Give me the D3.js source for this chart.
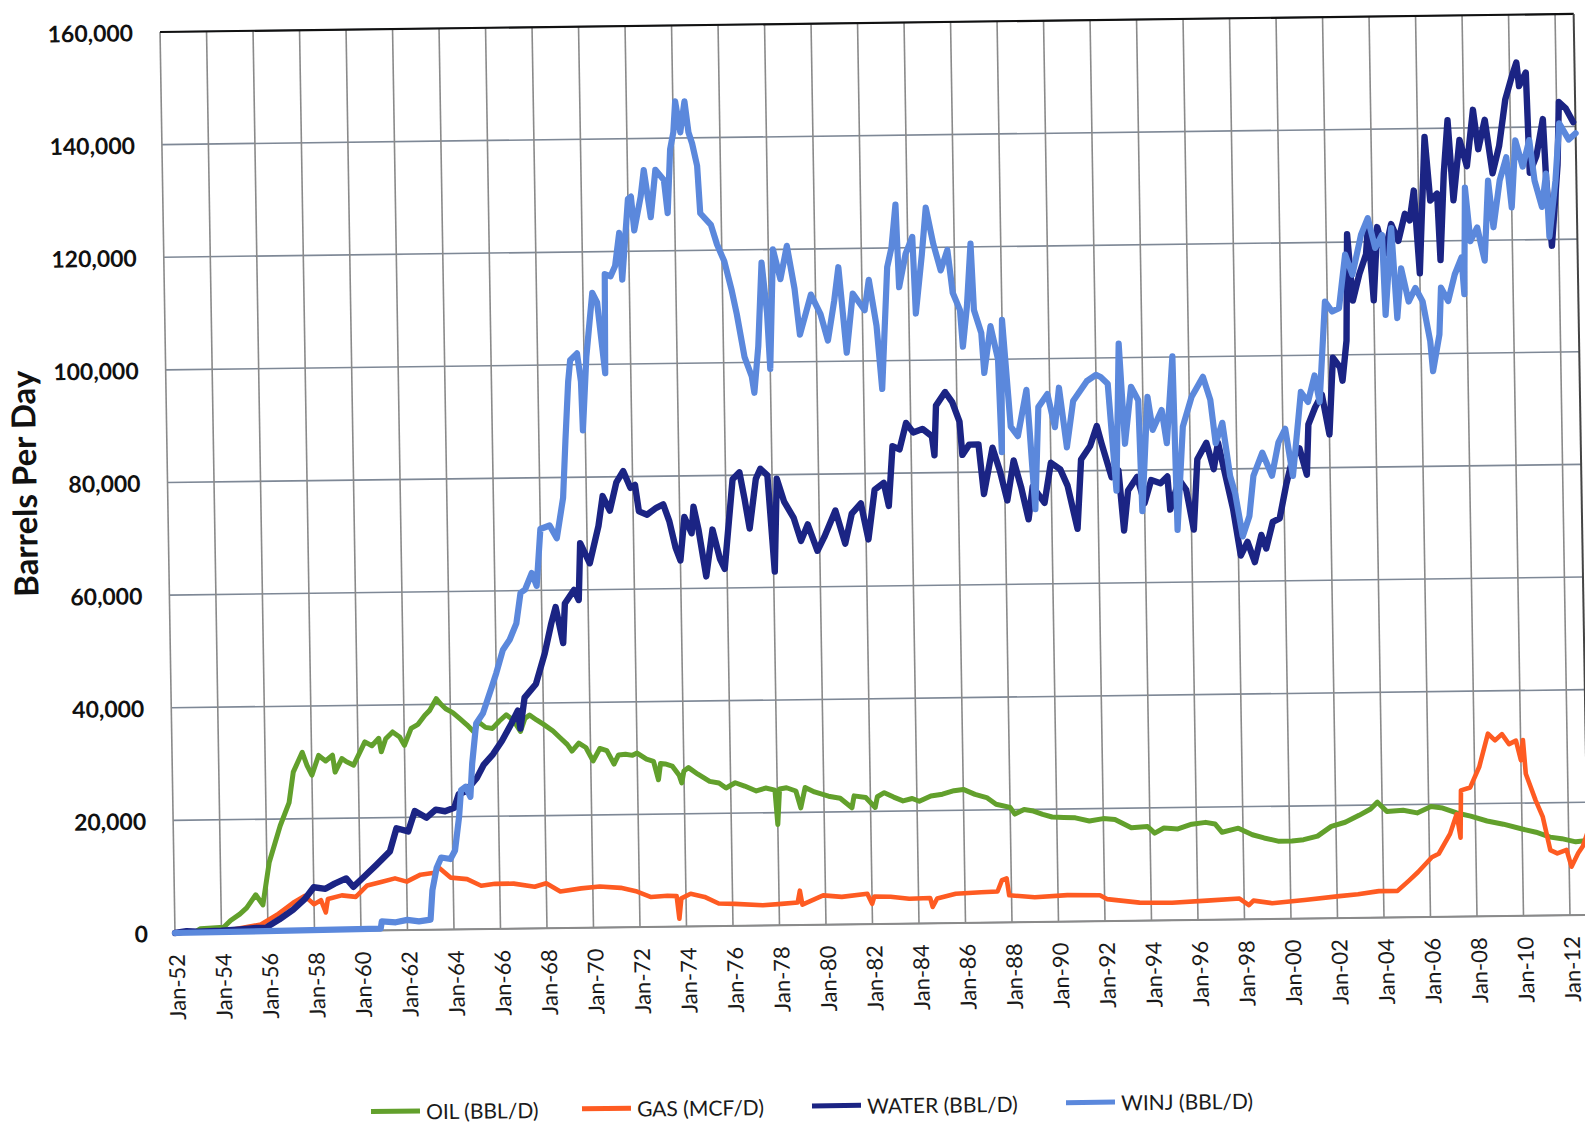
<!DOCTYPE html>
<html><head><meta charset="utf-8">
<script src="https://cdn.jsdelivr.net/npm/d3@7"></script>
<style>body{margin:0;background:#fff;overflow:hidden}</style>
</head><body>
<svg id="c" width="1585" height="1125"></svg>
<script>
const yTicks = [0,20000,40000,60000,80000,100000,120000,140000,160000];
const xTickYears = [1952,1954,1956,1958,1960,1962,1964,1966,1968,1970,1972,1974,1976,1978,1980,1982,1984,1986,1988,1990,1992,1994,1996,1998,2000,2002,2004,2006,2008,2010,2012];
const xTickLabels = ["Jan-52","Jan-54","Jan-56","Jan-58","Jan-60","Jan-62","Jan-64","Jan-66","Jan-68","Jan-70","Jan-72","Jan-74","Jan-76","Jan-78","Jan-80","Jan-82","Jan-84","Jan-86","Jan-88","Jan-90","Jan-92","Jan-94","Jan-96","Jan-98","Jan-00","Jan-02","Jan-04","Jan-06","Jan-08","Jan-10","Jan-12"];
const seriesNames = ["OIL (BBL/D)","GAS (MCF/D)","WATER (BBL/D)","WINJ (BBL/D)"];
const seriesColors = ["#62a02c","#fe5b22","#1b2484","#5b88dc"];

const oil = [[1952.0,0],[1952.9,200],[1953.1,700],[1953.6,800],[1954.1,900],[1954.4,2100],[1954.8,3200],[1955.1,4300],[1955.5,6600],[1955.8,4800],[1956.1,12300],[1956.6,18800],[1957.0,22900],[1957.2,28300],[1957.6,31800],[1957.8,29400],[1958.0,27700],[1958.3,31200],[1958.6,30200],[1958.9,31200],[1959.0,28200],[1959.3,30600],[1959.5,30000],[1959.8,29400],[1960.3,33500],[1960.6,32800],[1960.9,34100],[1961.0,31700],[1961.2,34000],[1961.5,35200],[1961.8,34300],[1962.0,32800],[1962.3,35800],[1962.6,36500],[1962.9,38100],[1963.1,38900],[1963.4,41000],[1963.6,40000],[1963.8,39200],[1964.1,38500],[1964.4,37400],[1964.7,36300],[1965.0,35000],[1965.2,36800],[1965.5,35800],[1965.8,35600],[1966.1,36900],[1966.4,38000],[1966.7,37000],[1967.0,35000],[1967.2,37300],[1967.4,37900],[1967.7,37000],[1968.0,36200],[1968.4,35000],[1968.7,33800],[1969.0,32600],[1969.2,31400],[1969.5,32800],[1969.8,32000],[1970.1,29600],[1970.4,31800],[1970.7,31400],[1971.0,29000],[1971.2,30600],[1971.5,30700],[1971.8,30500],[1972.0,30900],[1972.4,29800],[1972.7,29400],[1972.9,26100],[1973.0,29000],[1973.2,28900],[1973.5,28500],[1973.8,26800],[1973.9,25500],[1974.0,27600],[1974.2,28200],[1974.6,27000],[1975.1,25700],[1975.5,25400],[1975.8,24500],[1976.2,25400],[1976.6,24800],[1977.1,23900],[1977.5,24400],[1977.9,24000],[1978.0,17900],[1978.1,24200],[1978.4,24400],[1978.8,23800],[1979.0,20800],[1979.2,24400],[1979.6,23600],[1980.2,22800],[1980.7,22400],[1981.2,20700],[1981.3,22800],[1981.8,22500],[1982.2,20700],[1982.3,22600],[1982.6,23300],[1983.0,22500],[1983.4,21800],[1983.8,22200],[1984.1,21700],[1984.6,22600],[1985.1,22900],[1985.6,23500],[1986.0,23700],[1986.5,22800],[1987.0,22200],[1987.4,21000],[1988.0,20400],[1988.2,19200],[1988.6,20000],[1989.0,19700],[1989.4,19100],[1989.8,18600],[1990.3,18500],[1990.8,18400],[1991.4,17800],[1992.0,18200],[1992.5,18000],[1993.2,16500],[1993.9,16700],[1994.2,15500],[1994.6,16400],[1995.2,16200],[1995.8,17000],[1996.4,17300],[1996.8,17000],[1997.1,15500],[1997.8,16200],[1998.4,15000],[1998.9,14400],[1999.5,13800],[2000.1,13800],[2000.6,14000],[2001.2,14600],[2001.8,16300],[2002.4,17000],[2003.0,18200],[2003.5,19300],[2003.8,20500],[2004.2,18800],[2004.9,19000],[2005.5,18500],[2006.1,19600],[2006.6,19300],[2007.2,18400],[2007.8,17800],[2008.5,16900],[2009.2,16300],[2010.0,15400],[2010.6,14800],[2011.2,13900],[2011.7,13600],[2012.3,13000],[2012.8,13200]];

const gas = [[1952.0,0],[1954.0,100],[1954.8,700],[1955.7,1300],[1956.4,3000],[1957.1,5100],[1957.6,6300],[1958.0,4800],[1958.3,5500],[1958.5,3300],[1958.6,5700],[1959.2,6300],[1959.8,6000],[1960.3,8000],[1960.9,8600],[1961.5,9200],[1962.0,8600],[1962.6,9800],[1963.2,10100],[1963.4,11000],[1963.9,9200],[1964.6,8900],[1965.2,7700],[1965.8,8000],[1966.6,8000],[1967.5,7400],[1968.0,8000],[1968.6,6500],[1969.5,7000],[1970.3,7300],[1971.2,7000],[1971.9,6300],[1972.5,5300],[1973.2,5500],[1973.6,5400],[1973.7,1400],[1973.8,5000],[1974.2,5800],[1974.8,5200],[1975.4,4000],[1976.1,3900],[1977.3,3600],[1978.1,3800],[1978.8,4000],[1978.9,6100],[1979.0,3600],[1979.9,5200],[1980.7,4900],[1981.8,5400],[1982.0,3600],[1982.1,4900],[1982.8,4800],[1983.6,4400],[1984.5,4500],[1984.6,2900],[1984.8,4400],[1985.6,5200],[1986.7,5400],[1987.4,5500],[1987.6,7500],[1987.8,7800],[1987.9,4800],[1989.0,4400],[1990.4,4700],[1991.8,4600],[1992.1,3900],[1993.5,3200],[1994.9,3100],[1996.4,3400],[1997.8,3700],[1998.2,2500],[1998.4,3300],[1999.2,2800],[2000.6,3300],[2002.1,3900],[2002.9,4200],[2003.8,4700],[2004.6,4700],[2005.1,6500],[2005.5,8000],[2006.1,10600],[2006.4,11200],[2006.9,14700],[2007.2,18200],[2007.35,14000],[2007.4,22400],[2007.8,22900],[2008.2,26500],[2008.6,32400],[2008.9,31200],[2009.2,32300],[2009.5,30500],[2009.8,31100],[2010.0,27600],[2010.1,31200],[2010.2,25200],[2010.6,20500],[2010.9,17500],[2011.2,11600],[2011.5,11000],[2011.9,11600],[2012.1,8600],[2012.4,11000],[2012.6,12200],[2012.8,14500]];

const water = [[1952.0,0],[1952.5,300],[1953.0,200],[1954.0,300],[1954.8,500],[1955.5,700],[1955.9,700],[1956.5,2200],[1957.1,3900],[1957.6,5700],[1958.0,7800],[1958.5,7500],[1958.9,8400],[1959.4,9300],[1959.7,7800],[1960.1,9300],[1960.7,11600],[1961.3,14000],[1961.6,18100],[1962.1,17500],[1962.4,21100],[1962.9,19900],[1963.3,21300],[1963.7,21000],[1964.1,21600],[1964.3,24000],[1964.6,24500],[1965.1,26900],[1965.4,29200],[1965.8,31000],[1966.2,33400],[1966.6,36300],[1966.9,38700],[1967.0,35500],[1967.2,41000],[1967.7,43400],[1968.1,48800],[1968.4,54100],[1968.6,57000],[1968.9,50600],[1969.0,57600],[1969.4,60000],[1969.6,58200],[1969.7,68300],[1970.1,64700],[1970.5,71300],[1970.7,76600],[1971.0,74000],[1971.3,79000],[1971.6,81000],[1971.9,78000],[1972.1,78500],[1972.25,73800],[1972.6,73200],[1973.0,74400],[1973.3,75000],[1973.55,72000],[1973.8,67300],[1974.0,65000],[1974.2,72700],[1974.5,69800],[1974.6,74500],[1974.8,70400],[1975.1,62100],[1975.4,70400],[1975.7,65200],[1975.9,63400],[1976.3,79300],[1976.6,80500],[1976.8,75800],[1977.0,70500],[1977.3,79300],[1977.5,81100],[1977.8,79900],[1978.05,62800],[1978.2,79300],[1978.5,75200],[1978.9,72300],[1979.2,68200],[1979.5,71100],[1979.9,66400],[1980.2,68800],[1980.7,73500],[1981.1,67600],[1981.4,72900],[1981.8,74700],[1982.1,68300],[1982.4,77100],[1982.8,78300],[1983.0,74200],[1983.2,84800],[1983.5,84200],[1983.8,88900],[1984.1,87200],[1984.5,87800],[1984.9,86500],[1985.0,83100],[1985.1,91900],[1985.5,94300],[1985.8,92500],[1986.1,89000],[1986.2,83100],[1986.5,84900],[1986.9,84900],[1987.1,76100],[1987.5,84300],[1987.8,80200],[1988.1,74900],[1988.4,82000],[1988.7,77300],[1989.0,71500],[1989.2,77300],[1989.7,74400],[1990.0,81500],[1990.4,80300],[1990.7,77400],[1991.1,69700],[1991.3,82000],[1991.7,84400],[1992.0,87900],[1992.2,84700],[1992.6,78800],[1992.9,80000],[1993.1,69300],[1993.3,76400],[1993.7,78800],[1994.0,74100],[1994.3,78200],[1994.7,77600],[1995.0,78800],[1995.1,72900],[1995.5,78200],[1995.8,76400],[1996.1,69300],[1996.3,81800],[1996.7,84700],[1997.0,80000],[1997.2,84700],[1997.5,78800],[1997.8,72900],[1998.1,64600],[1998.4,67000],[1998.7,63400],[1999.0,68200],[1999.2,65800],[1999.5,70500],[1999.8,71100],[2000.1,77000],[2000.4,81800],[2000.7,83500],[2001.0,78800],[2001.1,87700],[2001.4,90700],[2001.7,93000],[2002.0,85900],[2002.2,99500],[2002.5,97800],[2002.6,95400],[2002.8,102500],[2002.9,121400],[2003.1,109600],[2003.4,114300],[2003.7,117800],[2003.8,122600],[2004.0,109600],[2004.2,122600],[2004.5,117800],[2004.8,123100],[2005.1,120100],[2005.4,124900],[2005.6,123700],[2005.8,129000],[2006.0,114300],[2006.3,138500],[2006.5,127200],[2006.8,128400],[2006.9,116600],[2007.1,131900],[2007.3,141400],[2007.5,127200],[2007.8,137900],[2008.1,133200],[2008.4,143200],[2008.6,136200],[2008.9,141400],[2009.2,131900],[2009.5,136700],[2009.8,145000],[2010.1,149100],[2010.3,151500],[2010.4,147300],[2010.7,149700],[2010.8,131900],[2011.1,134900],[2011.4,141400],[2011.5,130700],[2011.7,118900],[2012.0,133200],[2012.1,144400],[2012.4,143200],[2012.7,140800]];

const winj = [[1952.0,0],[1960.85,300],[1960.9,1600],[1961.5,1400],[1962.0,1800],[1962.5,1500],[1963.0,1800],[1963.1,7000],[1963.3,11000],[1963.5,12800],[1963.9,12500],[1964.1,14000],[1964.3,20000],[1964.4,24700],[1964.6,25300],[1964.8,23500],[1964.9,29400],[1965.1,36500],[1965.4,38300],[1965.8,43000],[1966.0,45400],[1966.3,49500],[1966.6,51300],[1966.9,54200],[1967.1,59600],[1967.3,60200],[1967.6,63100],[1967.8,60800],[1968.0,70900],[1968.4,71500],[1968.7,69200],[1969.0,76400],[1969.14,86500],[1969.3,97000],[1969.4,100800],[1969.7,102000],[1969.85,97000],[1969.9,88300],[1970.1,101400],[1970.3,109000],[1970.4,112700],[1970.6,111000],[1970.9,98400],[1970.95,116000],[1971.2,115600],[1971.4,117400],[1971.6,123300],[1971.7,115000],[1972.0,129300],[1972.13,129700],[1972.25,123700],[1972.55,129700],[1972.7,134400],[1972.97,126000],[1973.2,134400],[1973.56,132600],[1973.7,126700],[1973.85,138000],[1974.0,141000],[1974.1,146500],[1974.3,141000],[1974.5,146500],[1974.65,141000],[1974.8,139000],[1975.0,135000],[1975.1,126600],[1975.55,124500],[1975.8,121000],[1976.1,118000],[1976.4,112800],[1976.6,108600],[1976.9,101000],[1977.2,97500],[1977.3,94600],[1977.5,102800],[1977.7,117700],[1977.9,108800],[1978.0,98800],[1978.2,120000],[1978.5,114700],[1978.8,120600],[1979.1,113000],[1979.3,104800],[1979.8,111900],[1980.2,108400],[1980.5,103700],[1980.8,110800],[1981.0,116700],[1981.3,101500],[1981.6,112000],[1982.1,109000],[1982.3,114400],[1982.6,106200],[1982.8,95000],[1983.1,116600],[1983.3,120100],[1983.5,127700],[1983.6,113000],[1983.9,118900],[1984.2,121900],[1984.3,108300],[1984.6,118800],[1984.8,127100],[1985.1,120600],[1985.4,115900],[1985.7,119500],[1985.9,111900],[1986.2,108800],[1986.3,102300],[1986.5,109400],[1986.7,120600],[1986.8,108800],[1987.1,104700],[1987.2,97600],[1987.5,105900],[1987.8,100000],[1987.9,83500],[1987.95,100000],[1988.0,107000],[1988.3,88000],[1988.6,86300],[1989.0,94500],[1989.1,88000],[1989.3,73300],[1989.5,91400],[1989.9,93700],[1990.2,87800],[1990.4,94800],[1990.7,84200],[1991.0,92400],[1991.6,95900],[1992.0,97000],[1992.2,96600],[1992.5,95400],[1992.8,76400],[1993.0,102500],[1993.2,84700],[1993.5,94800],[1993.8,92400],[1993.9,72700],[1994.2,93000],[1994.4,87100],[1994.8,90600],[1995.0,84700],[1995.3,100100],[1995.4,69300],[1995.7,87600],[1996.1,92900],[1996.6,96400],[1996.9,92300],[1997.1,84600],[1997.4,88200],[1997.7,78700],[1997.9,75700],[1998.2,68000],[1998.5,71600],[1998.7,78700],[1999.1,82800],[1999.5,78700],[1999.8,84600],[2000.1,87000],[2000.4,78600],[2000.8,93500],[2001.1,91700],[2001.4,96400],[2001.6,91700],[2001.9,109500],[2002.2,107700],[2002.5,108300],[2002.8,117800],[2003.1,114200],[2003.5,121300],[2003.8,124200],[2004.1,118900],[2004.4,121200],[2004.5,107000],[2004.8,122400],[2005.0,106400],[2005.2,115200],[2005.5,109300],[2005.8,111700],[2006.1,109300],[2006.4,102200],[2006.5,96900],[2006.8,103400],[2006.9,111700],[2007.2,109300],[2007.5,114000],[2007.8,117000],[2007.9,110500],[2008.0,129400],[2008.2,119900],[2008.5,122300],[2008.8,116400],[2009.0,130600],[2009.2,122300],[2009.5,130600],[2009.8,134700],[2010.0,125800],[2010.2,137700],[2010.5,133000],[2010.8,137700],[2011.0,130500],[2011.3,125800],[2011.5,131700],[2011.6,120500],[2011.9,130500],[2012.1,140600],[2012.5,137700],[2012.8,138800]];

const allSeries = [oil, gas, water, winj];

const svg = d3.select("#c");
svg.append("rect").attr("width",1585).attr("height",1125).attr("fill","#fff");
// the scanned page is slightly skewed; reproduce with an affine transform
const root = svg.append("g").attr("transform","matrix(1,-0.0128,0.0166,1,-15.49,2.24)");

const plotLeft = 175, plotRight = 1588.6, plotTop = 32, plotBottom = 933;
const x = d3.scaleLinear().domain([1952, 2012.8]).range([plotLeft, plotRight]);
const y = d3.scaleLinear().domain([0, 160000]).range([plotBottom, plotTop]);

const grid = root.append("g");
grid.selectAll("line.h").data(yTicks).join("line").attr("class","h")
  .attr("x1", plotLeft).attr("x2", plotRight)
  .attr("y1", d => y(d)).attr("y2", d => y(d))
  .attr("stroke", "#7e8896").attr("stroke-width", 1.6);
grid.selectAll("line.v").data(xTickYears).join("line").attr("class","v")
  .attr("x1", d => x(d)).attr("x2", d => x(d))
  .attr("y1", plotTop).attr("y2", plotBottom)
  .attr("stroke", "#8a8a8a").attr("stroke-width", 1.6);
// frame
root.append("line").attr("x1", plotLeft).attr("x2", plotRight).attr("y1", plotTop).attr("y2", plotTop)
  .attr("stroke", "#111").attr("stroke-width", 2.2);
root.append("line").attr("x1", plotRight).attr("x2", plotRight).attr("y1", plotTop).attr("y2", plotBottom)
  .attr("stroke", "#444").attr("stroke-width", 2);
root.append("line").attr("x1", plotLeft).attr("x2", plotRight).attr("y1", plotBottom).attr("y2", plotBottom)
  .attr("stroke", "#8a8a8a").attr("stroke-width", 2);

// series
const line = d3.line().x(d => x(d[0])).y(d => y(d[1]));
const widths = [5, 4.6, 6.4, 6.2];
root.append("g").selectAll("path").data(allSeries).join("path")
  .attr("d", d => line(d))
  .attr("fill", "none")
  .attr("stroke", (d, i) => seriesColors[i])
  .attr("stroke-width", (d, i) => widths[i])
  .attr("stroke-linejoin", "round")
  .attr("stroke-linecap", "round");

// y tick labels
root.append("g").selectAll("text").data(yTicks).join("text")
  .attr("x", 148).attr("y", d => y(d))
  .attr("text-anchor", "end").attr("dominant-baseline", "central")
  .attr("font-family", "Lato, 'Open Sans', sans-serif").attr("font-weight", 700)
  .attr("font-size", 23).attr("fill", "#111")
  .text(d => d3.format(",")(d));

// x tick labels
root.append("g").selectAll("text").data(xTickYears).join("text")
  .attr("transform", d => `translate(${x(d) + 1},954) rotate(-90)`)
  .attr("text-anchor", "end").attr("dominant-baseline", "central")
  .attr("font-family", "Lato, 'Open Sans', sans-serif")
  .attr("font-size", 22).attr("fill", "#1a1a1a")
  .text((d, i) => xTickLabels[i]);

// y axis title
root.append("text")
  .attr("transform", "translate(31,482) rotate(-90)")
  .attr("text-anchor", "middle").attr("dominant-baseline", "central")
  .attr("font-family", "Lato, 'Open Sans', sans-serif").attr("font-weight", 700)
  .attr("font-size", 33).attr("fill", "#111")
  .text("Barrels Per Day");

// legend
const legendX = [368, 579, 809, 1063];
const lg = root.append("g").selectAll("g").data(seriesNames).join("g")
  .attr("transform", (d, i) => `translate(${legendX[i]},1114)`);
lg.append("line").attr("x1", 0).attr("x2", 49).attr("y1", 0).attr("y2", 0)
  .attr("stroke", (d, i) => seriesColors[i]).attr("stroke-width", 5);
lg.append("text").attr("x", 55).attr("y", 0)
  .attr("dominant-baseline", "central")
  .attr("font-family", "Lato, 'Open Sans', sans-serif")
  .attr("font-size", 21).attr("fill", "#1a1a1a")
  .text(d => d);
</script>
</body></html>
